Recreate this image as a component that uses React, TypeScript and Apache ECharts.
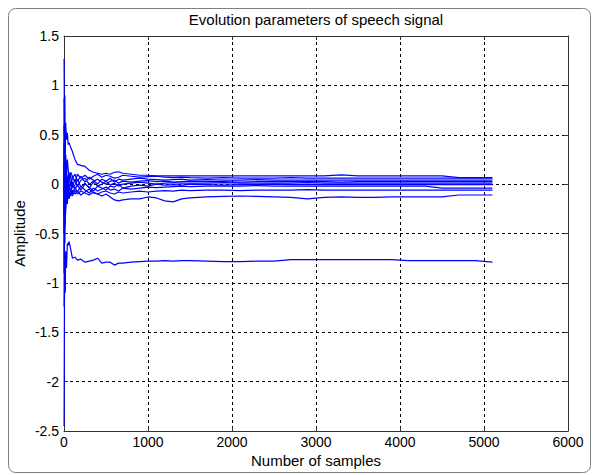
import React, { useEffect, useRef } from "react";
import * as echarts from "echarts";

const titleText = "Evolution parameters of speech signal";
const xName = "Number of samples";
const yName = "Amplitude";

const sampleX = [1, 5, 10, 15, 20, 30, 40, 50, 60, 80, 100, 130, 160, 200, 250, 300, 350, 400, 450, 500, 550, 600, 650, 700, 800, 900, 1000, 1100, 1200, 1300, 1400, 1500, 1700, 1900, 2100, 2300, 2500, 2700, 2900, 3100, 3300, 3500, 3700, 3900, 4100, 4300, 4500, 4700, 4900, 5100];

const paramA = [-2.45, -1.2, -0.9, -1.1, -0.68, -0.85, -0.6, -0.62, -0.58, -0.66, -0.75, -0.74, -0.77, -0.76, -0.79, -0.78, -0.77, -0.75, -0.8, -0.79, -0.79, -0.82, -0.8, -0.8, -0.79, -0.785, -0.78, -0.78, -0.775, -0.78, -0.775, -0.775, -0.78, -0.785, -0.785, -0.78, -0.78, -0.765, -0.765, -0.765, -0.765, -0.765, -0.765, -0.765, -0.775, -0.775, -0.775, -0.775, -0.775, -0.79];
const paramB = [1.27, 0.5, 0.9, 0.3, 0.62, 0.45, 0.52, 0.4, 0.42, 0.37, 0.33, 0.25, 0.2, 0.19, 0.18, 0.14, 0.12, 0.11, 0.1, 0.11, 0.1, 0.12, 0.125, 0.11, 0.1, 0.09, 0.09, 0.085, 0.083, 0.085, 0.083, 0.083, 0.083, 0.083, 0.083, 0.083, 0.083, 0.083, 0.083, 0.083, 0.093, 0.083, 0.083, 0.083, 0.083, 0.083, 0.083, 0.066, 0.066, 0.066];
const paramC = [0.87, -0.4, 0.5, -0.2, 0.3, 0.1, 0.25, 0.15, 0.05, 0.12, 0.08, 0.02, 0.1, 0.06, 0.09, 0.05, 0.08, 0.1, 0.07, 0.09, 0.08, 0.06, 0.07, 0.09, 0.08, 0.07, 0.075, 0.08, 0.07, 0.065, 0.07, 0.065, 0.06, 0.065, 0.06, 0.06, 0.06, 0.065, 0.06, 0.06, 0.06, 0.06, 0.06, 0.06, 0.06, 0.06, 0.06, 0.06, 0.06, 0.06];
const paramD = [-1.24, 0.4, -0.6, 0.2, -0.3, 0.15, -0.1, 0.05, 0.12, -0.02, 0.06, 0.1, 0.03, 0.08, 0.02, 0.07, 0.04, 0.0, 0.05, 0.03, 0.06, 0.02, 0.05, 0.04, 0.05, 0.06, 0.05, 0.045, 0.04, 0.045, 0.05, 0.04, 0.045, 0.04, 0.04, 0.045, 0.04, 0.04, 0.04, 0.04, 0.04, 0.04, 0.04, 0.04, 0.04, 0.04, 0.04, 0.04, 0.04, 0.04];
const paramE = [0.6, -0.8, 0.2, -0.4, 0.1, -0.15, 0.08, -0.05, 0.04, 0.09, -0.03, 0.05, -0.02, 0.04, 0.06, 0.0, 0.03, 0.05, 0.02, 0.0, 0.03, 0.04, 0.01, 0.03, 0.02, 0.03, 0.035, 0.025, 0.03, 0.02, 0.025, 0.03, 0.025, 0.025, 0.02, 0.025, 0.025, 0.025, 0.025, 0.025, 0.02, 0.025, 0.025, 0.025, 0.025, 0.025, 0.025, 0.025, 0.025, 0.025];
const paramF = [-0.9, 0.6, -0.3, 0.15, -0.2, 0.05, -0.08, 0.1, -0.06, 0.03, -0.04, -0.01, 0.05, -0.03, 0.01, -0.04, 0.02, -0.02, 0.0, 0.03, -0.01, 0.01, -0.02, 0.0, 0.01, 0.02, 0.01, 0.0, 0.01, 0.015, 0.01, 0.01, 0.01, 0.015, 0.01, 0.01, 0.01, 0.01, 0.015, 0.01, 0.01, 0.01, 0.01, 0.01, 0.01, 0.01, 0.01, 0.01, 0.01, 0.01];
const paramG = [0.4, -0.5, 0.15, -0.25, 0.05, -0.1, 0.02, -0.12, 0.0, -0.08, 0.02, -0.05, -0.01, -0.06, 0.0, -0.03, -0.07, -0.02, -0.04, -0.06, -0.02, -0.03, 0.0, -0.04, -0.02, -0.01, -0.02, 0.0, -0.01, -0.005, -0.01, 0.0, -0.005, -0.01, -0.005, -0.005, 0.0, -0.005, -0.005, -0.005, -0.005, -0.005, -0.005, -0.005, -0.005, -0.005, -0.005, -0.005, -0.005, -0.005];
const paramH = [-0.5, 0.3, -0.2, 0.1, -0.15, -0.02, -0.1, 0.04, -0.12, -0.05, -0.1, -0.03, -0.08, -0.02, -0.06, -0.09, -0.04, -0.07, -0.05, -0.03, -0.06, -0.05, -0.07, -0.04, -0.05, -0.04, -0.03, -0.035, -0.03, -0.025, -0.02, -0.025, -0.02, -0.02, -0.02, -0.015, -0.02, -0.02, -0.02, -0.02, -0.02, -0.02, -0.02, -0.02, -0.02, -0.02, -0.04, -0.04, -0.04, -0.04];
const paramI = [0.2, -0.35, 0.0, -0.3, -0.05, -0.2, -0.08, -0.15, -0.1, -0.12, -0.06, -0.1, -0.07, -0.11, -0.08, -0.05, -0.09, -0.1, -0.08, -0.07, -0.09, -0.1, -0.08, -0.09, -0.08, -0.07, -0.08, -0.07, -0.065, -0.07, -0.06, -0.065, -0.06, -0.06, -0.065, -0.06, -0.06, -0.06, -0.055, -0.06, -0.06, -0.06, -0.06, -0.06, -0.06, -0.06, -0.06, -0.06, -0.06, -0.06];
const paramJ = [-0.3, 0.2, -0.45, 0.05, -0.25, -0.1, -0.2, -0.05, -0.15, -0.08, -0.12, -0.06, -0.1, -0.07, -0.09, -0.11, -0.08, -0.1, -0.12, -0.1, -0.13, -0.16, -0.17, -0.16, -0.15, -0.15, -0.13, -0.14, -0.17, -0.18, -0.15, -0.14, -0.13, -0.125, -0.12, -0.125, -0.13, -0.135, -0.15, -0.135, -0.13, -0.135, -0.135, -0.13, -0.13, -0.13, -0.13, -0.11, -0.11, -0.11];

const allParams = [paramA, paramB, paramC, paramD, paramE, paramF, paramG, paramH, paramI, paramJ];

const W = 593;
const H = 475;
const GL = 64, GT = 36, GR = 568, GB = 431;
const FONT = "'Liberation Sans', Arial, sans-serif";

export default function App() {
  const ref = useRef<HTMLDivElement>(null);
  useEffect(() => {
    document.body.style.margin = "0";
    const chart = echarts.init(ref.current!, undefined, { renderer: "svg", width: W, height: H });
    const series = allParams.map((ys) => ({
      type: "line",
      data: sampleX.map((x, i) => [x, ys[i]]),
      showSymbol: false,
      symbol: "none",
      silent: true,
      lineStyle: { color: "#0000ff", width: 1.2 },
      xAxisIndex: 0,
      yAxisIndex: 0,
    }));
    const dashed = { show: true, lineStyle: { color: "#000", type: [3, 3], width: 1 } };
    chart.setOption({
      animation: false,
      backgroundColor: "#ffffff",
      grid: { left: GL, top: GT, width: GR - GL, height: GB - GT, show: false },
      xAxis: [
        {
          type: "value", min: 0, max: 6000, interval: 1000, position: "bottom",
          axisLine: { show: true, onZero: false, lineStyle: { color: "#333", width: 1 } },
          axisTick: { show: true, inside: true, length: 4, lineStyle: { color: "#333" } },
          axisLabel: { color: "#000", fontSize: 14, fontFamily: FONT, margin: 4, formatter: (v: number) => String(v) },
          splitLine: dashed,
        },
        {
          type: "value", min: 0, max: 6000, interval: 1000, position: "top",
          axisLine: { show: true, onZero: false, lineStyle: { color: "#333", width: 1 } },
          axisTick: { show: true, inside: true, length: 4, lineStyle: { color: "#333" } },
          axisLabel: { show: false },
          splitLine: { show: false },
        },
      ],
      yAxis: [
        {
          type: "value", min: -2.5, max: 1.5, interval: 0.5, position: "left",
          axisLine: { show: true, onZero: false, lineStyle: { color: "#333", width: 1 } },
          axisTick: { show: true, inside: true, length: 4, lineStyle: { color: "#333" } },
          axisLabel: { color: "#000", fontSize: 14, fontFamily: FONT, margin: 5, formatter: (v: number) => String(v) },
          splitLine: dashed,
        },
        {
          type: "value", min: -2.5, max: 1.5, interval: 0.5, position: "right",
          axisLine: { show: true, onZero: false, lineStyle: { color: "#333", width: 1 } },
          axisTick: { show: true, inside: true, length: 4, lineStyle: { color: "#333" } },
          axisLabel: { show: false },
          splitLine: { show: false },
        },
      ],
      graphic: [
        {
          type: "rect", left: 6, top: 6, silent: true, z: -1,
          shape: { width: 582, height: 464, r: 7 },
          style: { fill: "none", stroke: "#808080", lineWidth: 1 },
        },
        {
          type: "text", x: (GL + GR) / 2, y: 19, silent: true,
          style: { text: titleText, fill: "#000", font: `15px ${FONT}`, align: "center", verticalAlign: "middle" },
        },
        {
          type: "text", x: (GL + GR) / 2, y: 460, silent: true,
          style: { text: xName, fill: "#000", font: `15px ${FONT}`, align: "center", verticalAlign: "middle" },
        },
        {
          type: "text", x: 19, y: (GT + GB) / 2, rotation: Math.PI / 2, silent: true,
          style: { text: yName, fill: "#000", font: `15px ${FONT}`, align: "center", verticalAlign: "middle" },
        },
      ],
      series,
    });
    return () => chart.dispose();
  }, []);
  return <div ref={ref} style={{ width: W, height: H }} />;
}
